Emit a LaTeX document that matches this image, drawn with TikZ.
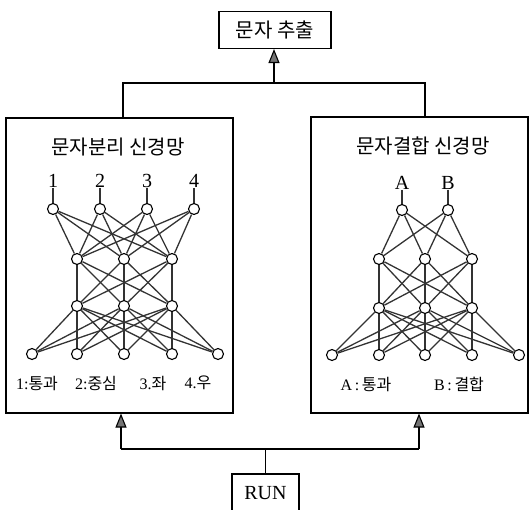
\documentclass[tikz,border=0pt]{standalone}
\usepackage{fontspec}
\setmainfont{Liberation Serif}
\newfontfamily\kr{Noto Sans CJK KR}
\usetikzlibrary{arrows.meta}
\begin{document}
\begin{tikzpicture}[x=1pt,y=-1pt,
  neuron/.style={circle,draw=black,fill=white,line width=1.1pt,inner sep=0pt,minimum size=11pt},
  link/.style={draw=black!80,line width=1.3pt},
  frame/.style={draw=black,line width=1.1pt,inner sep=0pt},
  wire/.style={draw=black,line width=1.1pt},
  up/.style={draw=black,line width=1.1pt,-{Triangle[length=14pt,width=11pt,fill=black!55]}},
  lbl/.style={inner sep=0pt,font=\fontsize{20}{22}\selectfont},
  ttl/.style={inner sep=0pt,font=\fontsize{20}{22}\selectfont\kr},
  leg/.style={inner sep=0pt,font=\fontsize{16}{18}\selectfont}
]
\useasboundingbox (0,0) rectangle (532,509);
\clip (0,0) rectangle (532,509);

% boxes
\node[frame,minimum width=112pt,minimum height=37pt,font=\fontsize{20}{22}\selectfont\kr] (T) at (275,30) {문자 추출};
\node[frame,minimum width=227pt,minimum height=295pt] (L) at (119.5,265.5) {};
\node[frame,minimum width=217pt,minimum height=296pt] (R) at (419.5,265) {};
\node[frame,minimum width=67pt,minimum height=38pt,font=\fontsize{20}{22}\selectfont] (N) at (265.5,493) {RUN};

% titles
\node[ttl] (Lt) at (118,147) {문자분리 신경망};
\node[ttl] (Rt) at (423,146) {문자결합 신경망};

% top connectors
\coordinate (tl) at (123,83);
\coordinate (tr) at (425,83);
\coordinate (tj) at (274,83);
\draw[wire] (tl |- L.north) -- (tl) -- (tr) -- (tr |- R.north);
\draw[up] (tj) -- (tj |- T.south);

% bottom connectors
\coordinate (bl) at (121,449);
\coordinate (br) at (419,449);
\draw[wire] (bl) -- (br);
\draw[up] (bl) -- (bl |- L.south);
\draw[up] (br) -- (br |- R.south);
\draw[wire] (N.north) -- (N.north |- bl);

% ---------- left network ----------
\foreach \i/\x/\t in {1/53/1,2/100/2,3/147/3,4/194/4}{
  \node[lbl] (la\i) at (\x,181) {\t};
  \node[neuron] (a\i) at (\x,209) {};
  \draw[link] (la\i.south) -- (a\i);
}
\foreach \i/\x in {1/77,2/124,3/172}{
  \node[neuron] (b\i) at (\x,259) {};
  \node[neuron] (c\i) at (\x,306) {};
}
\foreach \i/\x in {1/32,2/77,3/124,4/172,5/218}{
  \node[neuron] (d\i) at (\x,354) {};
}
\foreach \i in {1,...,4}{\foreach \j in {1,2,3}{\draw[link] (a\i) -- (b\j);}}
\foreach \i in {1,2,3}{\foreach \j in {1,2,3}{\draw[link] (b\i) -- (c\j);}}
\foreach \i in {1,2,3}{\foreach \j in {1,...,5}{\draw[link] (c\i) -- (d\j);}}

\node[leg] (lg1) at (37,383) {1:{\kr 통과}};
\node[leg] (lg2) at (96,383) {2:{\kr 중심}};
\node[leg] (lg3) at (153,383) {3.{\kr 좌}};
\node[leg] (lg4) at (198,383) {4.{\kr 우}};

% ---------- right network ----------
\foreach \i/\x/\t in {1/402/A,2/448/B}{
  \node[lbl] (ra\i l) at (\x,183) {\t};
  \node[neuron] (ra\i) at (\x,210) {};
  \draw[link] (ra\i l.south) -- (ra\i);
}
\foreach \i/\x in {1/379,2/425,3/472}{
  \node[neuron] (rb\i) at (\x,259) {};
  \node[neuron] (rc\i) at (\x,308) {};
}
\foreach \i/\x in {1/332,2/379,3/425,4/472,5/519}{
  \node[neuron] (rd\i) at (\x,355) {};
}
\foreach \i in {1,2}{\foreach \j in {1,2,3}{\draw[link] (ra\i) -- (rb\j);}}
\foreach \i in {1,2,3}{\foreach \j in {1,2,3}{\draw[link] (rb\i) -- (rc\j);}}
\foreach \i in {1,2,3}{\foreach \j in {1,...,5}{\draw[link] (rc\i) -- (rd\j);}}

\node[leg] (rlg1) at (366,384) {A\,:\,{\kr 통과}};
\node[leg] (rlg2) at (459,384) {B\,:\,{\kr 결합}};
\end{tikzpicture}
\end{document}
